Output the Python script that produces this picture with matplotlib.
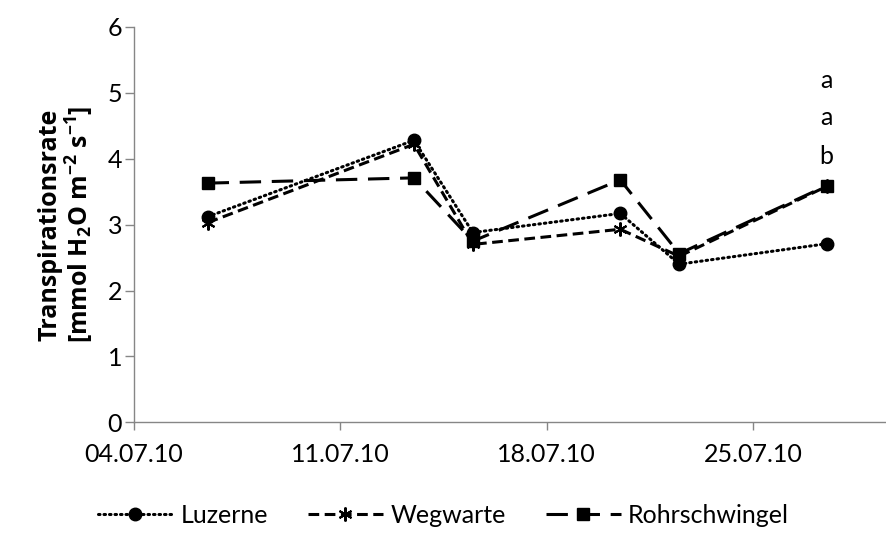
import matplotlib
matplotlib.use("Agg")
import matplotlib.pyplot as plt
import matplotlib.dates as mdates
import pandas as pd

plt.rcParams['font.family'] = ['Lato', 'DejaVu Sans']
# math parts of the y label (subscript / superscripts)
plt.rcParams['mathtext.fontset'] = 'custom'
plt.rcParams['mathtext.rm'] = 'Open Sans:bold'
plt.rcParams['mathtext.bf'] = 'Open Sans:bold'
plt.rcParams['mathtext.it'] = 'Open Sans:bold'

# measurement dates and transpiration rates
dates = ["06.07.10", "13.07.10", "15.07.10", "20.07.10", "22.07.10", "27.07.10"]
luzerne = [3.12, 4.28, 2.88, 3.17, 2.40, 2.71]
wegwarte = [3.03, 4.22, 2.70, 2.93, 2.52, 3.58]
rohrschwingel = [3.63, 3.71, 2.75, 3.68, 2.56, 3.59]

tick_dates = ["04.07.10", "11.07.10", "18.07.10", "25.07.10"]
letters = ["a", "a", "b"]
letter_y = [5.19, 4.62, 4.03]

# Excel date axis puts points in the middle of each day
x = pd.to_datetime(dates, format="%d.%m.%y") + pd.Timedelta(hours=12)
ticks = pd.to_datetime(tick_dates, format="%d.%m.%y")

fig = plt.figure(figsize=(8.87, 5.40), dpi=100)
ax = fig.add_axes([0.151, 0.218, 0.849, 0.732])

ax.plot(x, luzerne, color="black", lw=2.2, linestyle=(0, (0.5, 1.3)),
        dash_capstyle="round", marker="o", markersize=9, label="Luzerne")
ax.plot(x, wegwarte, color="black", lw=2.2, linestyle=(0, (3.5, 1.8)),
        marker=(6, 2, 0), markersize=10, markeredgewidth=1.5, label="Wegwarte")
ax.plot(x, rohrschwingel, color="black", lw=2.2, linestyle=(0, (7, 3.5)),
        marker="s", markersize=8, label="Rohrschwingel")

for lab, ly in zip(letters, letter_y):
    ax.text(x[-1], ly, lab, ha="center", va="center", fontsize=18)

ax.set_ylim(0, 6)
ax.set_yticks(range(0, 7))
ax.set_xlim(ticks[0], ticks[0] + pd.Timedelta(days=25.55))
ax.set_xticks(ticks)
ax.xaxis.set_major_formatter(mdates.DateFormatter("%d.%m.%y"))

for s in ["top", "right"]:
    ax.spines[s].set_visible(False)
for s in ["left", "bottom"]:
    ax.spines[s].set_color("#868686")
    ax.spines[s].set_linewidth(1.0)
ax.tick_params(axis="both", colors="#868686", labelcolor="black", labelsize=18)
ax.tick_params(axis="x", length=6, width=1.0, pad=9)
ax.tick_params(axis="y", length=6.5, width=1.0, pad=2)

ax.set_ylabel("Transpirationsrate\n[mmol H$_2$O m$^{-2}$ s$^{-1}$]",
              family="Open Sans", fontweight="bold",
              fontsize=18, labelpad=9, linespacing=1.05)

fig.legend(loc="center", bbox_to_anchor=(0.5, 0.045), ncol=3, frameon=False,
           fontsize=18, handlelength=3.0, columnspacing=1.6, handletextpad=0.3)

fig.savefig("out.png", dpi=100)
